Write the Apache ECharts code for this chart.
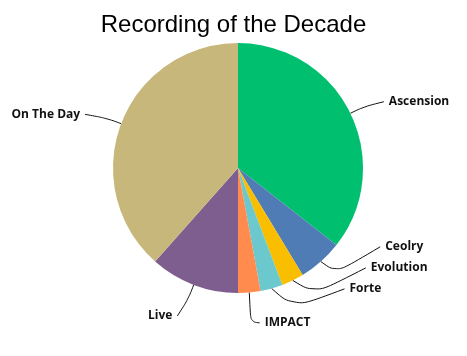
<!DOCTYPE html>
<html><head><meta charset="utf-8">
<script src="https://cdn.jsdelivr.net/npm/echarts@6/dist/echarts.min.js"></script>
<style>html,body{margin:0;padding:0;background:#fff}#c{width:467px;height:356px}</style>
</head><body><div id="c"></div>
<script>
var categories = ['Ascension','Ceolry','Evolution','Forte','IMPACT','Live','On The Day'];
var values = [37, 6, 3, 3, 3, 12, 40];
var colors = ['#00BF6F','#507CB6','#F9BE00','#6BC8CD','#FF8B4F','#7D5E8F','#C8B77A'];
// label nudges (style only)
var labelDx = [-2, 22, 29, 29, -13, 11, 0];
var labelDy = [-5, -26, -26, -19, 1, 17, -4];
var chart = echarts.init(document.getElementById('c'), null, {renderer:'canvas'});
chart.setOption({
  animation:false,
  title:{text:'Recording of the Decade', left:'center', top:8,
    textStyle:{fontFamily:'Liberation Sans', fontSize:24, fontWeight:'normal', color:'#000'}},
  series:[{
    type:'pie', center:[238,168], radius:125, startAngle:90, clockwise:true,
    data: categories.map(function(c,i){return {name:c, value:values[i], itemStyle:{color:colors[i]}};}),
    itemStyle:{borderWidth:0},
    label:{show:true, formatter:'{b}', color:'#111', fontFamily:'Open Sans', fontWeight:'bold', fontSize:12},
    labelLine:{show:true, length:15, length2:22, smooth:0.4, lineStyle:{color:'#111', width:1}},
    labelLayout:function(p){
      var i = p.dataIndex, dx = labelDx[i], dy = labelDy[i];
      var r = p.labelRect;
      var pts = p.labelLinePoints;
      var res = {dx:dx, dy:dy};
      if (pts && pts.length >= 2) {
        var a = pts[0], b = pts[1];
        var cx = r.x + dx + r.width/2, cy = r.y + dy + r.height/2;
        var ex = cx > a[0] ? r.x + dx - 5 : r.x + dx + r.width + 5;
        res.labelLinePoints = [[a[0],a[1]],[b[0],b[1]],[ex,cy]];
      }
      return res;
    }
  }]
});
</script></body></html>
